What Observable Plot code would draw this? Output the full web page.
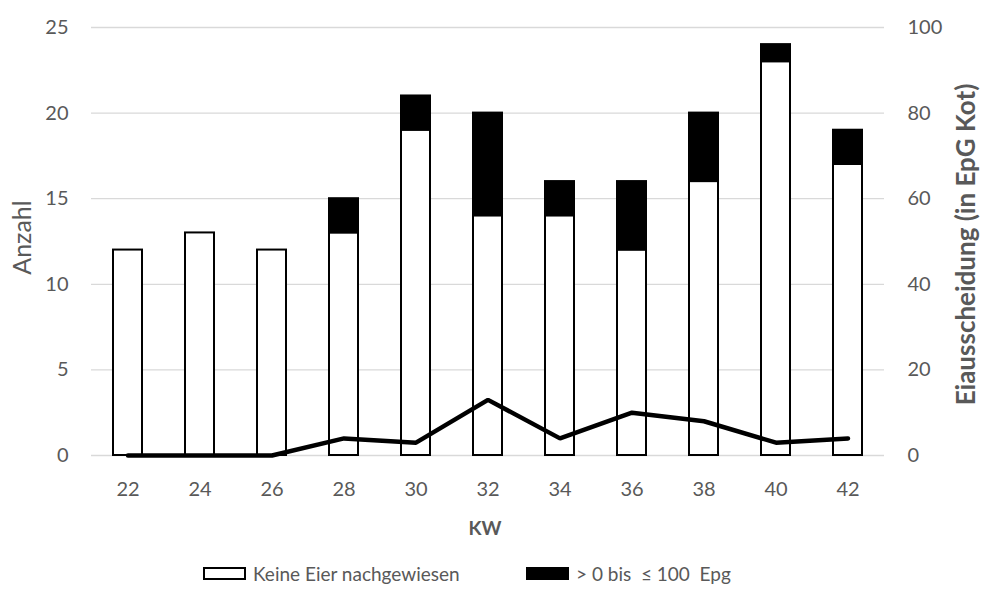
<!DOCTYPE html>
<html>
<head>
<meta charset="utf-8">
<script src="https://cdn.jsdelivr.net/npm/d3@7"></script>
<script src="https://cdn.jsdelivr.net/npm/@observablehq/plot@0.6"></script>
<style>
  html, body { margin: 0; padding: 0; background: #fff; }
  body { width: 982px; height: 604px; overflow: hidden; font-family: Lato, "Open Sans", sans-serif; }
  #legend { position: relative; width: 982px; height: 49px; color: #595959; font-size: 19px; }
  .item { position: absolute; top: 7px; display: flex; align-items: center; white-space: pre; }
  .sw { width: 43px; height: 13px; box-sizing: border-box; margin-right: 7px; }
</style>
</head>
<body>
<div id="chart"></div>
<div id="legend"></div>
<script>
const weeks = ["22","24","26","28","30","32","34","36","38","40","42"];
const keineEier = [12, 13, 12, 13, 19, 14, 14, 12, 16, 23, 17];
const bis100 = [0, 0, 0, 2, 2, 6, 2, 4, 4, 1, 2];
const epg = [0, 0, 0, 4, 3, 13, 4, 10, 8, 3, 4];
const seriesNames = ["Keine Eier nachgewiesen", ">\u00a00 bis  \u2264 100  Epg"];
const seriesColors = ["#ffffff", "#000000"];
const leftTicks = [0, 5, 10, 15, 20, 25];
const rightTicks = [0, 20, 40, 60, 80, 100];
const leftMax = 25, rightMax = 100;
const ratio = leftMax / rightMax;

const bars = [];
weeks.forEach((w, i) => {
  bars.push({kw: w, series: seriesNames[0], value: keineEier[i]});
  if (bis100[i] > 0) bars.push({kw: w, series: seriesNames[1], value: bis100[i]});
});
const lineData = weeks.map((w, i) => ({kw: w, epg: epg[i]}));

const textColor = "#595959";
const chart = Plot.plot({
  width: 982,
  height: 555,
  marginLeft: 91,
  marginRight: 98,
  marginTop: 27,
  marginBottom: 100,
  style: {fontFamily: "Lato, 'Open Sans', sans-serif", fontSize: "20px", color: textColor, background: "#fff"},
  x: {domain: weeks, paddingInner: 0.6, paddingOuter: 0.3},
  y: {domain: [0, leftMax]},
  color: {domain: seriesNames, range: seriesColors},
  marks: [
    Plot.gridY(leftTicks, {stroke: "#d9d9d9", strokeOpacity: 1, strokeWidth: 1.3}),
    Plot.axisY({ticks: leftTicks, tickSize: 0, tickPadding: 23, label: null, fill: textColor}),
    Plot.axisY({anchor: "right", ticks: rightTicks.map(t => t * ratio), tickFormat: d => d / ratio, tickSize: 0, tickPadding: 23, label: null, fill: textColor}),
    Plot.axisX({tickSize: 0, tickPadding: 26, label: null, fill: textColor}),
    Plot.rectY(bars, Plot.stackY({x: "kw", y: "value", fill: "series", stroke: "#000", strokeWidth: 2, order: seriesNames})),
    Plot.line(lineData, {x: "kw", y: d => d.epg * ratio, stroke: "#000", strokeWidth: 4.5, strokeLinecap: "round", strokeLinejoin: "miter"}),
    Plot.text(["Anzahl"], {frameAnchor: "left", dx: -69, dy: -4, rotate: -90, textAnchor: "middle", fontSize: 25, fill: textColor}),
    Plot.text(["Eiausscheidung (in EpG Kot)"], {frameAnchor: "right", dx: 82, dy: 3, rotate: -90, textAnchor: "middle", fontSize: 26, fontWeight: "bold", fill: textColor}),
    Plot.text(["KW"], {frameAnchor: "bottom", dx: -3, dy: 79, fontSize: 19, fontWeight: "bold", fill: textColor})
  ]
});
document.getElementById("chart").appendChild(chart);

const legend = document.getElementById("legend");
const lefts = [203, 526];
seriesNames.forEach((name, i) => {
  const item = document.createElement("div");
  item.className = "item";
  item.style.left = lefts[i] + "px";
  const sw = document.createElement("span");
  sw.className = "sw";
  sw.style.background = seriesColors[i];
  sw.style.border = "2px solid #000";
  const label = document.createElement("span");
  label.textContent = name;
  item.appendChild(sw);
  item.appendChild(label);
  legend.appendChild(item);
});
</script>
</body>
</html>
